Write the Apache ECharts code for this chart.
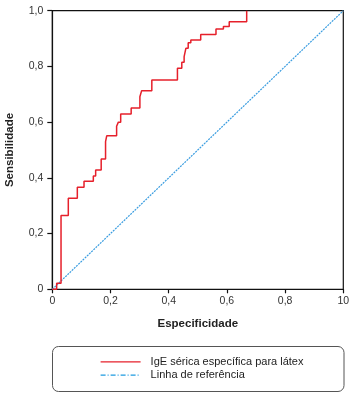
<!DOCTYPE html>
<html>
<head>
<meta charset="utf-8">
<script src="https://cdn.jsdelivr.net/npm/echarts@6/dist/echarts.min.js"></script>
<style>
html,body{margin:0;padding:0;background:#fff;}
#c{width:353px;height:396px;}
</style>
</head>
<body>
<div id="c"></div>
<script>
// X axis ("Especificidade") values of the ROC curve corners
var rocX = [0, 0.015, 0.015, 0.030, 0.030, 0.055, 0.055, 0.086, 0.086, 0.109, 0.109, 0.141, 0.141, 0.149, 0.149, 0.168, 0.168, 0.183, 0.183, 0.187, 0.187, 0.221, 0.221, 0.227, 0.227, 0.235, 0.235, 0.271, 0.271, 0.301, 0.301, 0.307, 0.307, 0.342, 0.342, 0.430, 0.430, 0.445, 0.445, 0.453, 0.453, 0.459, 0.459, 0.467, 0.467, 0.476, 0.476, 0.510, 0.510, 0.5625, 0.5625, 0.588, 0.588, 0.608, 0.608, 0.668, 0.668];
// Y axis ("Sensibilidade") values
var rocY = [0, 0, 0.022, 0.022, 0.265, 0.265, 0.327, 0.327, 0.366, 0.366, 0.388, 0.388, 0.407, 0.407, 0.428, 0.428, 0.468, 0.468, 0.530, 0.530, 0.551, 0.551, 0.585, 0.585, 0.600, 0.600, 0.629, 0.629, 0.651, 0.651, 0.691, 0.691, 0.713, 0.713, 0.751, 0.751, 0.793, 0.793, 0.815, 0.815, 0.835, 0.835, 0.865, 0.865, 0.885, 0.885, 0.895, 0.895, 0.915, 0.915, 0.934, 0.934, 0.943, 0.943, 0.960, 0.960, 1.0];
var refX = [0, 1];
var refY = [0, 1];
var xTickLabels = {0: '0', 0.2: '0,2', 0.4: '0,4', 0.6: '0,6', 0.8: '0,8', 1: '10'};
var yTickLabels = {0: '0', 0.2: '0,2', 0.4: '0,4', 0.6: '0,6', 0.8: '0,8', 1: '1,0'};
var seriesNames = ['IgE sérica específica para látex', 'Linha de referência'];

function zip(a, b) { return a.map(function (v, i) { return [v, b[i]]; }); }
function lab(map) { return function (v) { var k = Math.round(v * 10) / 10; return map[k] !== undefined ? map[k] : ''; }; }

var chart = echarts.init(document.getElementById('c'), null, {renderer: 'canvas'});
var font = 'Liberation Sans, Arial, Helvetica, sans-serif';
chart.setOption({
  animation: false,
  backgroundColor: '#fff',
  grid: {left: 52.3, right: 9.7, top: 10.7, bottom: 106.7, containLabel: false, outerBoundsMode: 'none',
         show: true, borderColor: '#111', borderWidth: 1.2, backgroundColor: 'transparent'},
  xAxis: {
    type: 'value', min: 0, max: 1, interval: 0.2,
    name: 'Especificidade', nameLocation: 'middle', nameGap: 29,
    nameTextStyle: {fontFamily: font, fontWeight: 'bold', fontSize: 11.5, color: '#222'},
    axisLine: {lineStyle: {color: '#111', width: 1.2}},
    axisTick: {length: 4, lineStyle: {color: '#111', width: 1.2}},
    axisLabel: {formatter: lab(xTickLabels), fontFamily: font, fontSize: 10.5, color: '#333', margin: 6},
    splitLine: {show: false}
  },
  yAxis: {
    type: 'value', min: 0, max: 1, interval: 0.2,
    name: 'Sensibilidade', nameLocation: 'middle', nameGap: 36,
    nameTextStyle: {fontFamily: font, fontWeight: 'bold', fontSize: 11.5, color: '#222'},
    axisLine: {lineStyle: {color: '#111', width: 1.2}},
    axisTick: {length: 5, lineStyle: {color: '#111', width: 1.2}},
    axisLabel: {formatter: lab(yTickLabels), fontFamily: font, fontSize: 10.5, color: '#333', margin: 9},
    splitLine: {show: false}
  },
  legend: {
    orient: 'vertical', left: 100, top: 356.3, padding: 0,
    itemWidth: 40, itemHeight: 14, itemGap: 2,
    itemStyle: {color: 'rgba(0,0,0,0)', borderWidth: 0, opacity: 0},
    textStyle: {fontFamily: font, fontSize: 11, color: '#222', padding: [0, 0, 0, 5]},
    data: [
      {name: seriesNames[0], lineStyle: {width: 1.2}},
      {name: seriesNames[1], lineStyle: {width: 1.2, type: [5, 2, 1, 2], color: '#1e9be0'}}
    ]
  },
  graphic: [{
    type: 'rect', z: -1,
    shape: {x: 52.5, y: 346.5, width: 291.5, height: 45, r: 6},
    style: {fill: 'none', stroke: '#555', lineWidth: 1}
  }],
  series: [{
    name: seriesNames[0], type: 'line', symbol: 'none', z: 3,
    data: zip(rocX, rocY),
    lineStyle: {color: '#e6202b', width: 1.5},
    itemStyle: {color: '#e6202b'}
  }, {
    name: seriesNames[1], type: 'line', symbol: 'none', z: 2,
    data: zip(refX, refY),
    lineStyle: {color: '#3a9de0', width: 1.2, type: [2, 1]},
    itemStyle: {color: '#3a9de0'}
  }]
});
</script>
</body>
</html>
